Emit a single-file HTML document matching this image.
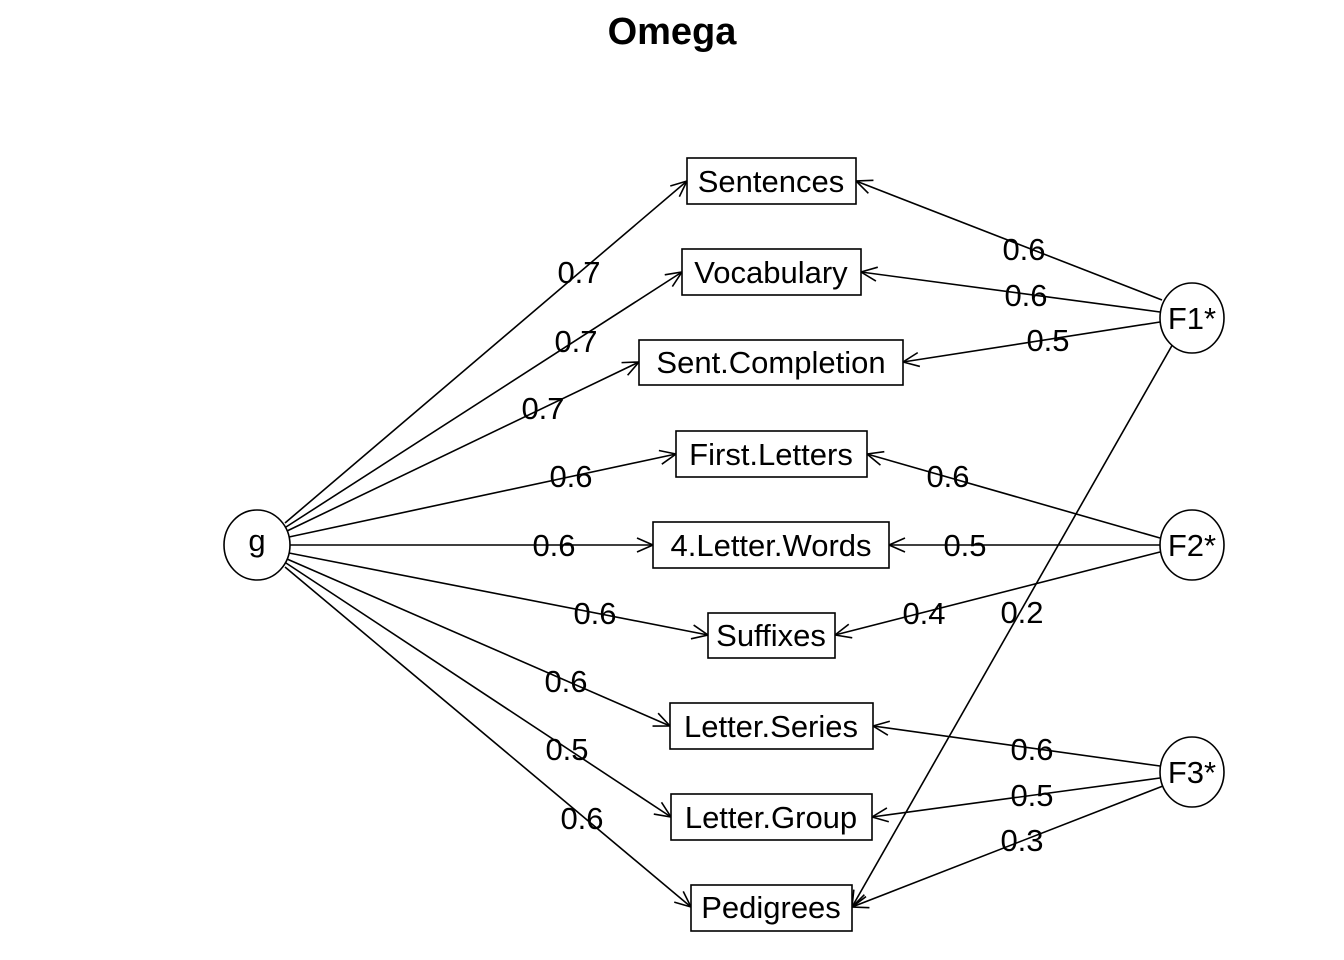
<!DOCTYPE html>
<html><head><meta charset="utf-8"><style>
html,body{margin:0;padding:0;background:#fff;}
svg{display:block;}
text{font-family:"Liberation Sans",Arial,sans-serif;fill:#000;}
</style></head><body>
<svg width="1344" height="960" viewBox="0 0 1344 960" xmlns="http://www.w3.org/2000/svg">
<defs>
<marker id="a" viewBox="0 0 20 20" refX="20" refY="10" markerWidth="20" markerHeight="20" markerUnits="userSpaceOnUse" orient="auto">
<path d="M4,3 L20,10 L4,17" fill="none" stroke="#000" stroke-width="1.6"/>
</marker>
</defs>
<text x="672" y="44" font-size="38" font-weight="bold" text-anchor="middle">Omega</text>
<g stroke="#000" stroke-width="1.6" fill="none" marker-end="url(#a)">
<line x1="285" y1="523" x2="687" y2="181"/>
<line x1="286" y1="527" x2="682" y2="272"/>
<line x1="287" y1="531" x2="639" y2="362"/>
<line x1="289" y1="537" x2="676" y2="454"/>
<line x1="290" y1="545" x2="653" y2="545"/>
<line x1="289" y1="553" x2="708" y2="635"/>
<line x1="287" y1="559" x2="670" y2="726"/>
<line x1="286" y1="563" x2="671" y2="817"/>
<line x1="285" y1="567" x2="691" y2="907"/>
<line x1="1162" y1="300" x2="856" y2="181"/>
<line x1="1160" y1="312" x2="861" y2="272"/>
<line x1="1160" y1="322" x2="903" y2="362"/>
<line x1="1174" y1="342" x2="852" y2="907"/>
<line x1="1160" y1="538" x2="867" y2="454"/>
<line x1="1160" y1="545" x2="889" y2="545"/>
<line x1="1160" y1="552" x2="835" y2="635"/>
<line x1="1160" y1="766" x2="873" y2="726"/>
<line x1="1160" y1="778" x2="872" y2="817"/>
<line x1="1163" y1="786" x2="852" y2="907"/>
</g>
<g stroke="#000" stroke-width="1.6" fill="#fff">
<ellipse cx="257" cy="545" rx="33" ry="35"/>
<ellipse cx="1192" cy="318" rx="32" ry="35"/>
<ellipse cx="1192" cy="545" rx="32" ry="35"/>
<ellipse cx="1192" cy="772" rx="32" ry="35"/>
<rect x="687" y="158" width="169" height="46"/>
<rect x="682" y="249" width="179" height="46"/>
<rect x="639" y="340" width="264" height="45"/>
<rect x="676" y="431" width="191" height="46"/>
<rect x="653" y="522" width="236" height="46"/>
<rect x="708" y="613" width="127" height="45"/>
<rect x="670" y="703" width="203" height="46"/>
<rect x="671" y="794" width="201" height="46"/>
<rect x="691" y="885" width="161" height="46"/>
</g>
<g font-size="31" text-anchor="middle">
<text x="257" y="551">g</text>
<text x="1192" y="329">F1*</text>
<text x="1192" y="556">F2*</text>
<text x="1192" y="783">F3*</text>
<text x="771" y="192">Sentences</text>
<text x="771" y="283">Vocabulary</text>
<text x="771" y="373">Sent.Completion</text>
<text x="771" y="465">First.Letters</text>
<text x="771" y="556">4.Letter.Words</text>
<text x="771" y="646">Suffixes</text>
<text x="771" y="737">Letter.Series</text>
<text x="771" y="828">Letter.Group</text>
<text x="771" y="918">Pedigrees</text>
<text x="579" y="283">0.7</text>
<text x="576" y="352">0.7</text>
<text x="543" y="419">0.7</text>
<text x="571" y="487">0.6</text>
<text x="554" y="556">0.6</text>
<text x="595" y="624">0.6</text>
<text x="566" y="692">0.6</text>
<text x="567" y="760">0.5</text>
<text x="582" y="829">0.6</text>
<text x="1024" y="260">0.6</text>
<text x="1026" y="306">0.6</text>
<text x="1048" y="351">0.5</text>
<text x="1022" y="623">0.2</text>
<text x="948" y="487">0.6</text>
<text x="965" y="556">0.5</text>
<text x="924" y="624">0.4</text>
<text x="1032" y="760">0.6</text>
<text x="1032" y="806">0.5</text>
<text x="1022" y="851">0.3</text>
</g>
</svg>
</body></html>
